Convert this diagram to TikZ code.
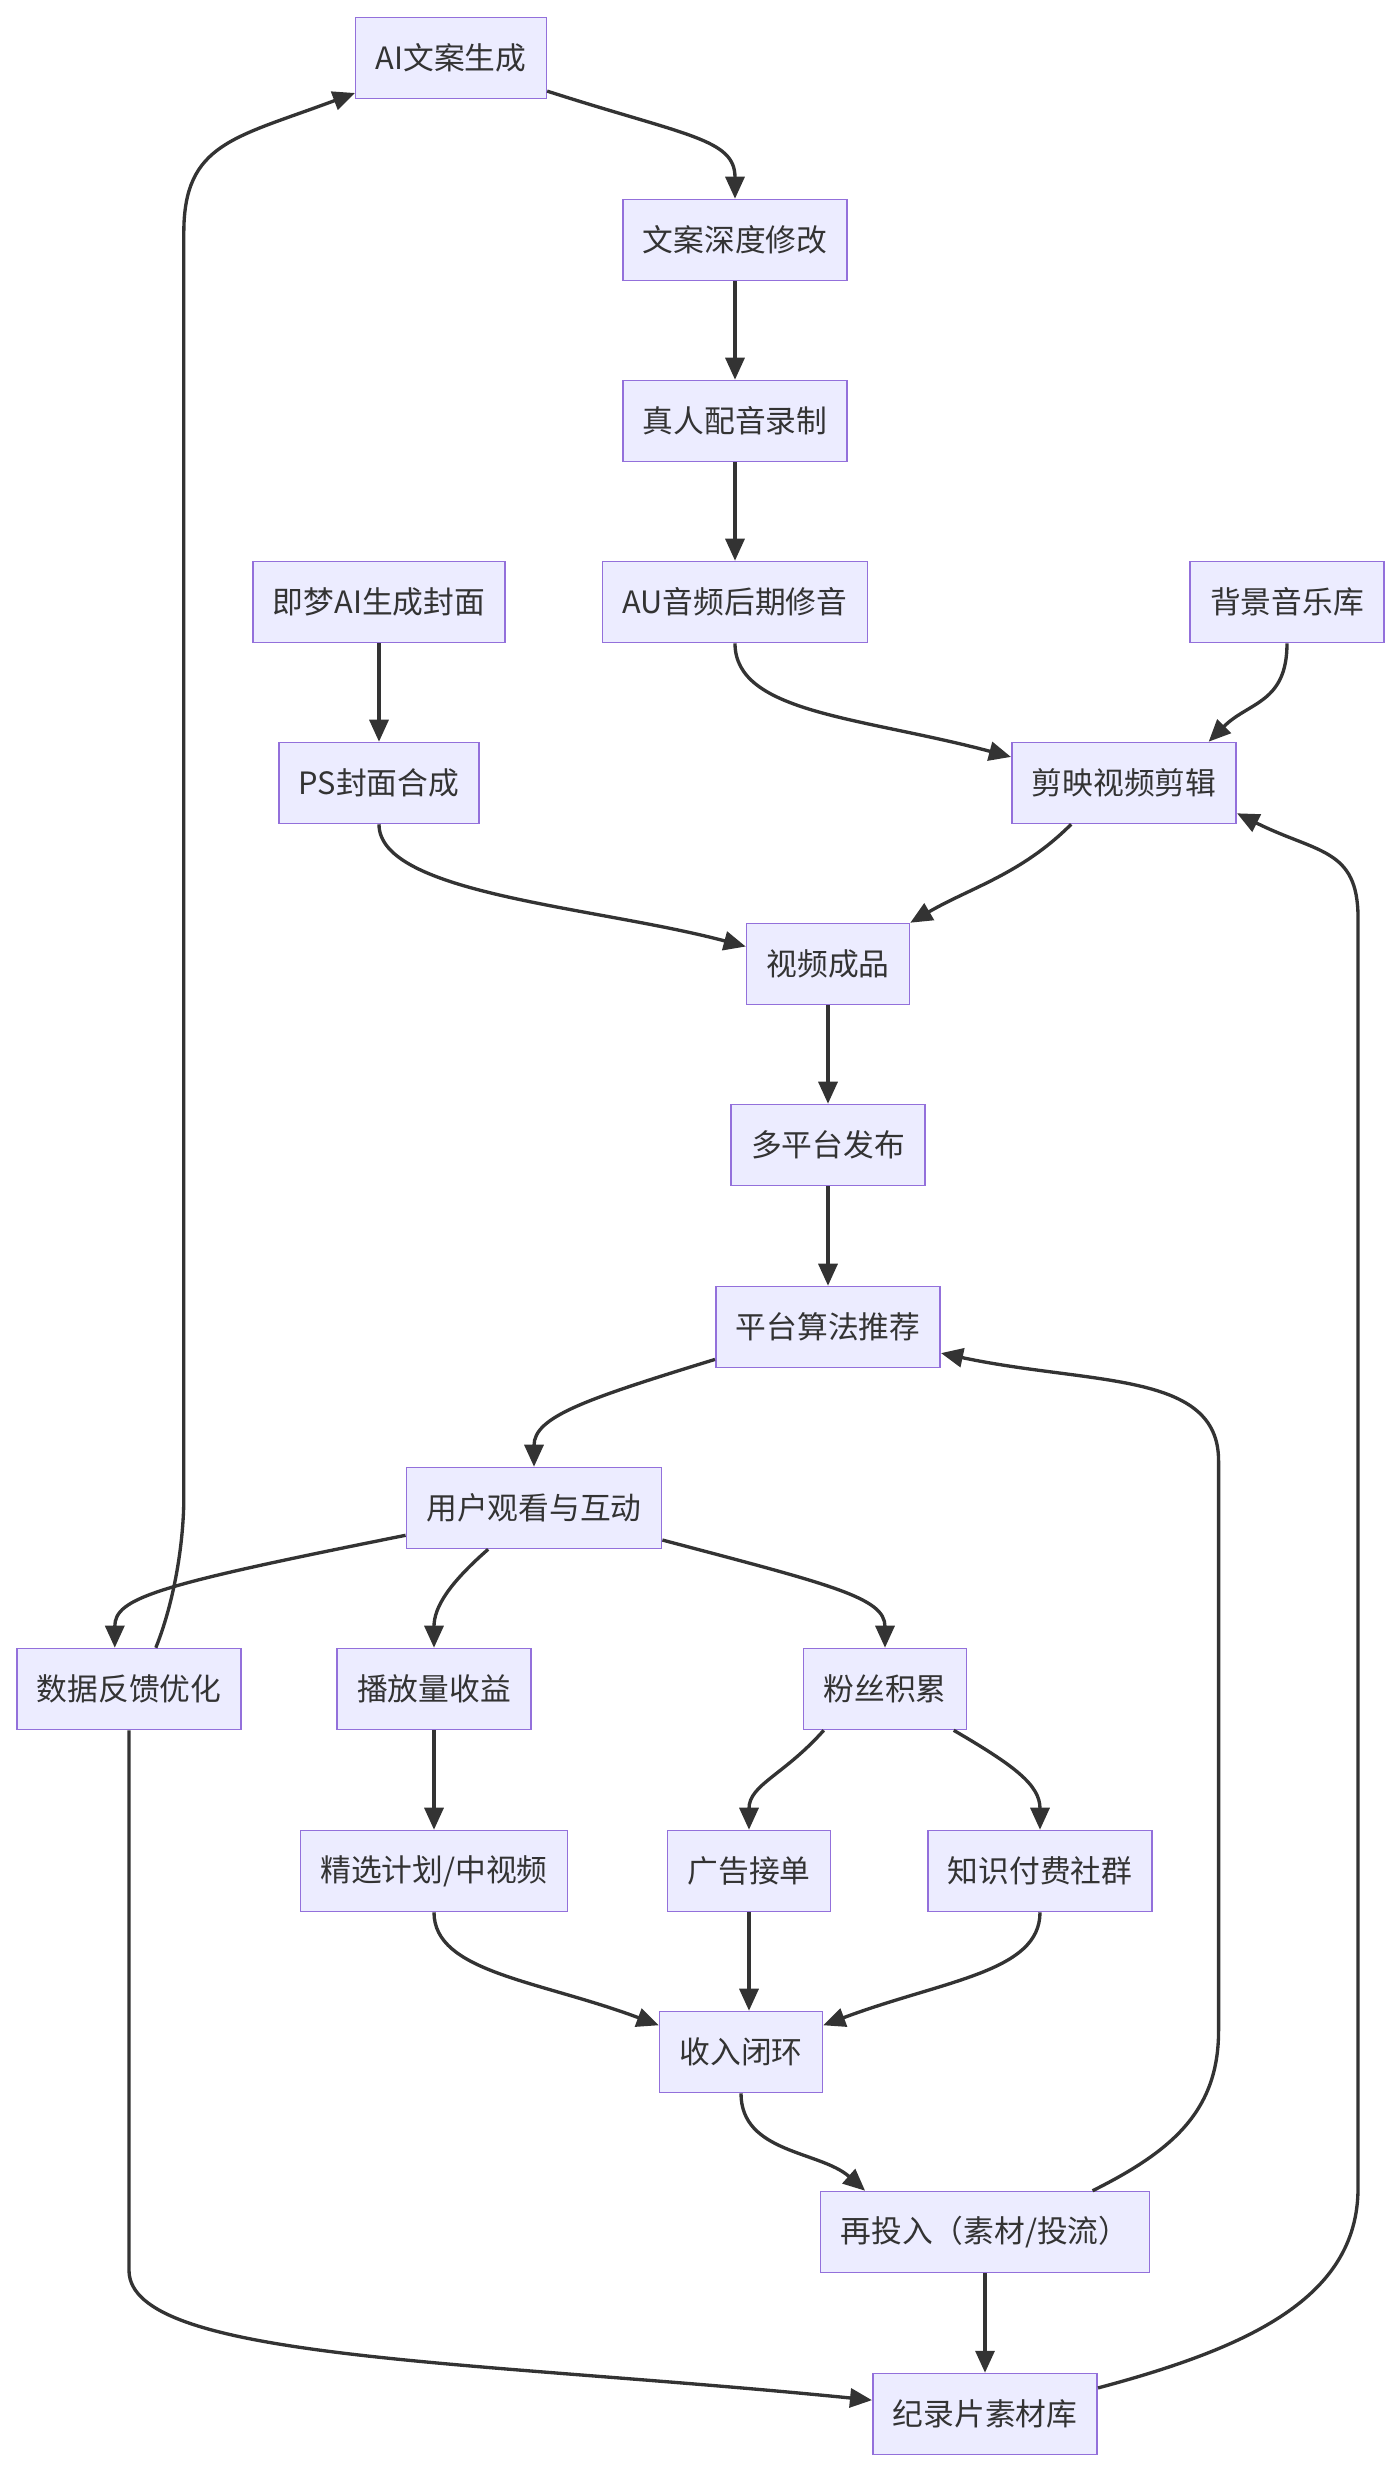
\documentclass[tikz,border=0pt]{standalone}
\usepackage{fontspec}
\setmainfont{Noto Sans CJK SC}
\usetikzlibrary{arrows.meta}
\definecolor{boxfill}{HTML}{ECECFF}
\definecolor{boxline}{HTML}{9370DB}
\definecolor{linegray}{HTML}{333333}

\begin{document}
\begin{tikzpicture}[x=0.02cm, y=-0.02cm,
	every node/.style={font=\fontsize{17.5}{20}\selectfont, text=linegray},
	box/.style={draw=boxline, fill=boxfill, line width=0.9pt, minimum height=1.62cm, inner xsep=0.4cm},
	arrowline/.style={draw=linegray, line width=1.9pt, -{Triangle[length=0.44cm,width=0.38cm]}}]
	\useasboundingbox (0,0) rectangle (1400,2472);
	\node[box] (ai) at (451,58) {AI文案生成};
	\node[box] (edit) at (735,240) {文案深度修改};
	\node[box] (voice) at (735,421) {真人配音录制};
	\node[box] (cover) at (379,602) {即梦AI生成封面};
	\node[box] (au) at (735,602) {AU音频后期修音};
	\node[box] (bgm) at (1287,602) {背景音乐库};
	\node[box] (ps) at (379,783) {PS封面合成};
	\node[box] (cut) at (1124,783) {剪映视频剪辑};
	\node[box] (video) at (828,964) {视频成品};
	\node[box] (pub) at (828,1145) {多平台发布};
	\node[box] (algo) at (828,1327) {平台算法推荐};
	\node[box] (user) at (534,1508) {用户观看与互动};
	\node[box] (data) at (129,1689) {数据反馈优化};
	\node[box] (play) at (434,1689) {播放量收益};
	\node[box] (fans) at (885,1689) {粉丝积累};
	\node[box] (plan) at (434,1871) {精选计划/中视频};
	\node[box] (ads) at (749,1871) {广告接单};
	\node[box] (paid) at (1040,1871) {知识付费社群};
	\node[box] (income) at (741,2052) {收入闭环};
	\node[box] (invest) at (985,2232) {再投入（素材/投流）};
	\node[box] (lib) at (985,2414) {纪录片素材库};

	\draw[arrowline] (ai.-19) .. controls +(140,45) and +(0,-60) .. (edit.north);
	\draw[arrowline] (edit) -- (voice);
	\draw[arrowline] (voice) -- (au);
	\draw[arrowline] (cover) -- (ps);
	\draw[arrowline] (au.south) .. controls +(0,70) and +(-150,-40) .. (cut.167);
	\draw[arrowline] (bgm.south) .. controls +(0,60) and +(40,-40) .. (cut.26);
	\draw[arrowline] (ps.south) .. controls +(0,70) and +(-150,-40) .. (video.168);
	\draw[arrowline] (cut.-142) .. controls +(-50,50) and +(60,-35) .. (video.north east);
	\draw[arrowline] (video) -- (pub);
	\draw[arrowline] (pub) -- (algo);
	\draw[arrowline] (algo.-164) .. controls +(-130,40) and +(0,-50) .. (user.north);
	\draw[arrowline] (user.-168) .. controls +(-250,50) and +(0,-50) .. (data.109);
	\draw[arrowline] (user.-138) .. controls +(-40,35) and +(0,-40) .. (play.north);
	\draw[arrowline] (user.-14) .. controls +(170,45) and +(0,-50) .. (fans.north);
	\draw[arrowline] (data.57) .. controls +(20,-50) and +(0,40) .. ++(28,-150) -- ++(0,-1265) .. controls +(0,-90) and +(-120,45) .. (ai.-160);
	\draw[arrowline] (data.south) -- ++(0,540) .. controls +(0,90) and +(-400,-40) .. (lib.173);
	\draw[arrowline] (play) -- (plan);
	\draw[arrowline] (fans.-146) .. controls +(-40,45) and +(0,-45) .. (ads.north);
	\draw[arrowline] (fans.-31) .. controls +(60,35) and +(0,-45) .. (paid.north);
	\draw[arrowline] (plan.south) .. controls +(0,60) and +(-120,-45) .. (income.162);
	\draw[arrowline] (ads.south) -- (ads.south |- income.north);
	\draw[arrowline] (paid.south) .. controls +(0,60) and +(120,-45) .. (income.18);
	\draw[arrowline] (income.south) .. controls +(0,60) and +(-45,-40) .. (invest.161);
	\draw[arrowline] (invest.21) .. controls +(80,-40) and +(0,80) .. ++(126,-160) -- ++(0,-570) .. controls +(0,-90) and +(150,32) .. (algo.-13);
	\draw[arrowline] (invest) -- (lib);
	\draw[arrowline] (lib.13) .. controls +(150,-40) and +(0,110) .. ++(260,-200) -- ++(0,-1270) .. controls +(0,-70) and +(80,40) .. (cut.-15);
\end{tikzpicture}
\end{document}
